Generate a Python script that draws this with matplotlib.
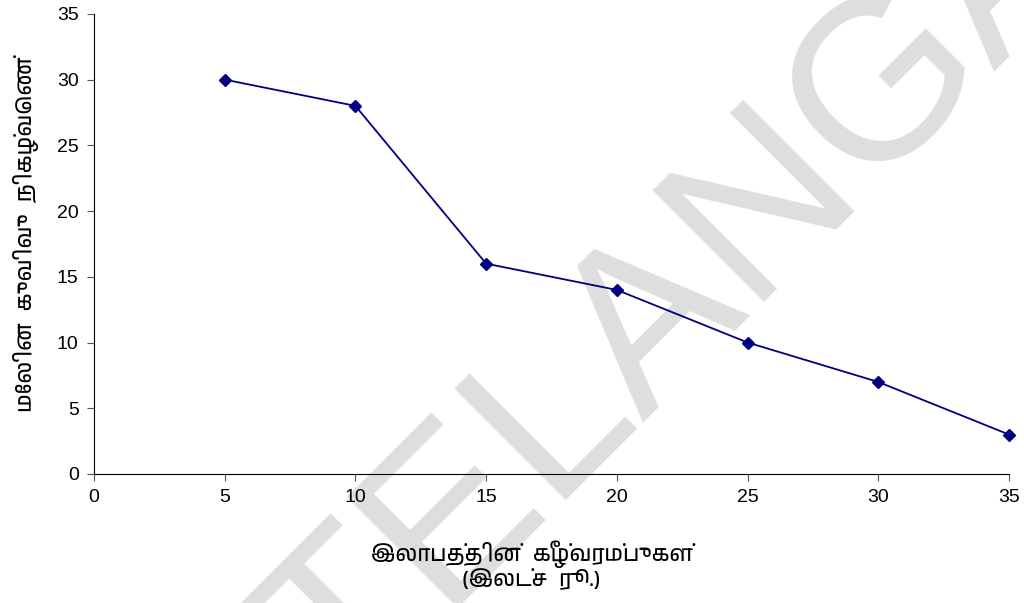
import matplotlib
matplotlib.use("Agg")
import matplotlib.pyplot as plt
from matplotlib import font_manager

# data
profit_limits = [5, 10, 15, 20, 25, 30, 35]
cum_freq = [30, 28, 16, 14, 10, 7, 3]
x_ticks = [0, 5, 10, 15, 20, 25, 30, 35]
y_ticks = [0, 5, 10, 15, 20, 25, 30, 35]

xlabel = "இலாபத்தின்  கீழ்வரம்புகள்\n(இலட்ச  ரூ.)"
ylabel = "மேலின  குவிவு  நிகழ்வெண்"

# pick up any installed font with Tamil glyphs
names = sorted({f.name for f in font_manager.fontManager.ttflist})
tamil = [n for n in names if "Tamil" in n or "Lohit" in n]
fam = tamil + ["DejaVu Sans"]

plt.rcParams["font.family"] = ["Liberation Sans", "DejaVu Sans"]

fig = plt.figure(figsize=(10.24, 6.03), dpi=100)
ax = fig.add_axes([0.0918, 0.214, 0.8935, 0.763])
ax.set_zorder(2)
ax.set_facecolor("none")

# watermark behind the chart
fig.text(0.775, 0.696, "TELANGANA", fontsize=165, color="#dedede", rotation=45,
         rotation_mode="anchor", ha="center", va="center", zorder=0)

ax.plot(profit_limits, cum_freq, color="#000080", lw=1.3, marker="D",
        markersize=6, markerfacecolor="#000080", zorder=3, clip_on=False)

ax.set_xlim(0, 35)
ax.set_ylim(0, 35)
ax.set_xticks(x_ticks)
ax.set_yticks(y_ticks)
ax.tick_params(labelsize=14, direction="out", length=5, color="#555555", pad=6)
for s in ["top", "right"]:
    ax.spines[s].set_visible(False)

ax.set_xlabel(xlabel, family=fam, fontsize=16, fontweight="bold", linespacing=1.0)
ax.xaxis.set_label_coords(0.478, -0.145)
ax.set_ylabel(ylabel, family=fam, fontsize=16, fontweight="bold")
ax.yaxis.set_label_coords(-0.06, 0.52)

fig.savefig("out.png", dpi=100)
